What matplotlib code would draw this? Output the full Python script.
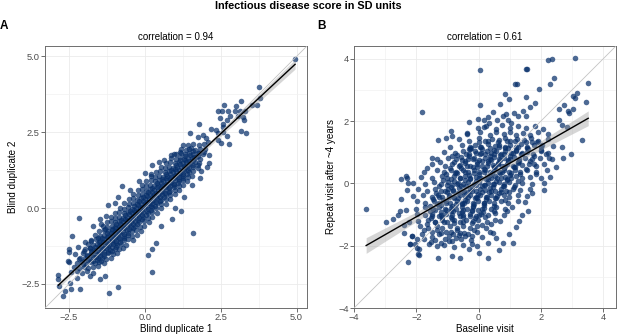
import numpy as np
import matplotlib.pyplot as plt
from matplotlib.ticker import FuncFormatter

plt.rcParams['font.family'] = ['Liberation Sans', 'DejaVu Sans']

# Panel A: blind duplicates, points as (duplicate 1, duplicate 2)
dup_core = [
    (-2.42, -2.12), (-2.25, -2.07), (-2.08, -2.13), (-1.9, -2.08),
    (-2.33, -1.94), (-2.18, -1.98), (-2.02, -1.93), (-1.87, -1.97), (-1.7, -1.95), (-1.56, -1.92),
    (-2.25, -1.81), (-2.08, -1.77), (-1.93, -1.83), (-1.79, -1.78), (-1.64, -1.82), (-1.5, -1.79), (-1.36, -1.81),
    (-2.15, -1.66), (-1.98, -1.63), (-1.84, -1.67), (-1.7, -1.62), (-1.56, -1.66), (-1.42, -1.64), (-1.27, -1.67), (-1.12, -1.63),
    (-2.05, -1.49), (-1.9, -1.53), (-1.76, -1.48), (-1.62, -1.52), (-1.48, -1.47), (-1.35, -1.51), (-1.21, -1.48), (-1.06, -1.52), (-0.92, -1.49),
    (-1.98, -1.36), (-1.82, -1.33), (-1.68, -1.37), (-1.54, -1.32), (-1.41, -1.36), (-1.27, -1.33), (-1.14, -1.37), (-1.0, -1.34), (-0.85, -1.36), (-0.72, -1.33),
    (-1.86, -1.19), (-1.71, -1.22), (-1.57, -1.18), (-1.44, -1.23), (-1.31, -1.19), (-1.18, -1.21), (-1.05, -1.17), (-0.92, -1.22), (-0.78, -1.18), (-0.63, -1.21),
    (-1.77, -1.06), (-1.62, -1.03), (-1.48, -1.07), (-1.35, -1.02), (-1.22, -1.06), (-1.09, -1.04), (-0.96, -1.07), (-0.83, -1.03), (-0.69, -1.06), (-0.55, -1.02), (-0.4, -1.05),
    (-1.63, -0.89), (-1.49, -0.92), (-1.36, -0.88), (-1.22, -0.93), (-1.09, -0.89), (-0.96, -0.91), (-0.83, -0.87), (-0.7, -0.92), (-0.56, -0.88), (-0.42, -0.91), (-0.27, -0.89),
    (-1.5, -0.76), (-1.36, -0.73), (-1.23, -0.77), (-1.1, -0.72), (-0.97, -0.76), (-0.84, -0.74), (-0.71, -0.77), (-0.58, -0.73), (-0.44, -0.76), (-0.3, -0.72), (-0.14, -0.75),
    (-1.38, -0.59), (-1.24, -0.62), (-1.1, -0.58), (-0.97, -0.63), (-0.84, -0.59), (-0.71, -0.61), (-0.58, -0.57), (-0.45, -0.62), (-0.31, -0.58), (-0.17, -0.61), (-0.02, -0.59),
    (-1.25, -0.46), (-1.11, -0.43), (-0.97, -0.47), (-0.84, -0.42), (-0.71, -0.46), (-0.58, -0.44), (-0.45, -0.47), (-0.32, -0.43), (-0.18, -0.46), (-0.04, -0.42), (0.12, -0.45),
    (-1.12, -0.29), (-0.98, -0.32), (-0.84, -0.28), (-0.71, -0.33), (-0.58, -0.29), (-0.45, -0.31), (-0.32, -0.27), (-0.19, -0.32), (-0.05, -0.28), (0.09, -0.31), (0.25, -0.29),
    (-0.98, -0.16), (-0.84, -0.13), (-0.7, -0.17), (-0.57, -0.12), (-0.44, -0.16), (-0.31, -0.14), (-0.18, -0.17), (-0.05, -0.13), (0.09, -0.16), (0.23, -0.12), (0.39, -0.15),
    (-0.83, 0.01), (-0.69, -0.02), (-0.55, 0.02), (-0.42, -0.03), (-0.29, 0.01), (-0.16, -0.01), (-0.03, 0.03), (0.1, -0.02), (0.24, 0.02), (0.38, -0.01), (0.54, 0.01),
    (-0.68, 0.16), (-0.54, 0.13), (-0.4, 0.17), (-0.27, 0.12), (-0.14, 0.16), (-0.01, 0.14), (0.12, 0.17), (0.25, 0.13), (0.39, 0.16), (0.53, 0.12), (0.69, 0.15),
    (-0.53, 0.29), (-0.39, 0.32), (-0.25, 0.28), (-0.12, 0.33), (0.01, 0.29), (0.14, 0.31), (0.27, 0.27), (0.4, 0.32), (0.54, 0.28), (0.68, 0.31), (0.84, 0.29),
    (-0.38, 0.46), (-0.24, 0.43), (-0.1, 0.47), (0.03, 0.42), (0.16, 0.46), (0.29, 0.44), (0.42, 0.47), (0.55, 0.43), (0.69, 0.46), (0.83, 0.42), (0.99, 0.45),
    (-0.23, 0.59), (-0.09, 0.62), (0.05, 0.58), (0.18, 0.63), (0.31, 0.59), (0.44, 0.61), (0.57, 0.57), (0.7, 0.62), (0.84, 0.58), (0.98, 0.61), (1.13, 0.59),
    (-0.1, 0.76), (0.04, 0.73), (0.18, 0.77), (0.31, 0.72), (0.44, 0.76), (0.57, 0.74), (0.7, 0.77), (0.83, 0.73), (0.97, 0.76), (1.11, 0.72), (1.26, 0.75),
    (0.05, 0.89), (0.19, 0.92), (0.33, 0.88), (0.46, 0.93), (0.59, 0.89), (0.72, 0.91), (0.85, 0.87), (0.98, 0.92), (1.12, 0.88), (1.26, 0.91), (1.4, 0.89),
    (0.2, 1.06), (0.34, 1.03), (0.48, 1.07), (0.61, 1.02), (0.74, 1.06), (0.87, 1.04), (1.0, 1.07), (1.13, 1.03), (1.27, 1.06), (1.41, 1.02), (1.55, 1.05),
    (0.37, 1.19), (0.51, 1.22), (0.65, 1.18), (0.78, 1.23), (0.91, 1.19), (1.04, 1.21), (1.17, 1.17), (1.3, 1.22), (1.44, 1.18), (1.58, 1.21),
    (0.52, 1.36), (0.66, 1.33), (0.8, 1.37), (0.93, 1.32), (1.06, 1.36), (1.19, 1.34), (1.32, 1.37), (1.46, 1.33), (1.6, 1.36), (1.74, 1.32),
    (0.7, 1.49), (0.84, 1.52), (0.98, 1.48), (1.11, 1.53), (1.24, 1.49), (1.37, 1.51), (1.5, 1.47), (1.64, 1.52), (1.79, 1.48),
    (0.87, 1.66), (1.01, 1.63), (1.15, 1.67), (1.28, 1.62), (1.41, 1.66), (1.54, 1.64), (1.68, 1.67), (1.83, 1.63),
    (1.03, 1.79), (1.18, 1.82), (1.32, 1.78), (1.46, 1.83), (1.6, 1.79), (1.75, 1.81), (1.9, 1.78),
    (1.2, 1.96), (1.36, 1.93), (1.51, 1.97), (1.66, 1.92), (1.82, 1.96), (1.98, 1.94),
    (1.42, 2.09), (1.6, 2.12), (1.78, 2.08), (1.96, 2.11),
]
# the darkest strip right along the diagonal
dup_center = [
    (-2.0, -1.73), (-1.86, -1.71), (-1.72, -1.75), (-1.58, -1.72), (-1.44, -1.74),
    (-1.9, -1.58), (-1.76, -1.56), (-1.62, -1.6), (-1.48, -1.57), (-1.34, -1.59),
    (-1.78, -1.43), (-1.64, -1.41), (-1.5, -1.45), (-1.36, -1.42), (-1.22, -1.44), (-1.08, -1.42),
    (-1.65, -1.28), (-1.51, -1.26), (-1.37, -1.3), (-1.23, -1.27), (-1.09, -1.29), (-0.95, -1.27),
    (-1.52, -1.13), (-1.38, -1.11), (-1.24, -1.15), (-1.1, -1.12), (-0.96, -1.14), (-0.82, -1.12),
    (-1.4, -0.98), (-1.26, -0.96), (-1.12, -1.0), (-0.98, -0.97), (-0.84, -0.99), (-0.7, -0.97),
    (-1.26, -0.83), (-1.12, -0.81), (-0.98, -0.85), (-0.84, -0.82), (-0.7, -0.84), (-0.56, -0.82),
    (-1.1, -0.68), (-0.96, -0.66), (-0.82, -0.7), (-0.68, -0.67), (-0.54, -0.69), (-0.4, -0.67),
    (-0.96, -0.53), (-0.82, -0.51), (-0.68, -0.55), (-0.54, -0.52), (-0.4, -0.54), (-0.26, -0.52),
    (-0.8, -0.38), (-0.66, -0.36), (-0.52, -0.4), (-0.38, -0.37), (-0.24, -0.39), (-0.1, -0.37),
    (-0.66, -0.23), (-0.52, -0.21), (-0.38, -0.25), (-0.24, -0.22), (-0.1, -0.24), (0.04, -0.22),
    (-0.5, -0.08), (-0.36, -0.06), (-0.22, -0.1), (-0.08, -0.07), (0.06, -0.09), (0.2, -0.07),
    (-0.36, 0.07), (-0.22, 0.09), (-0.08, 0.05), (0.06, 0.08), (0.2, 0.06), (0.34, 0.08),
    (-0.2, 0.22), (-0.06, 0.24), (0.08, 0.2), (0.22, 0.23), (0.36, 0.21), (0.5, 0.23),
    (-0.06, 0.37), (0.08, 0.39), (0.22, 0.35), (0.36, 0.38), (0.5, 0.36), (0.64, 0.38),
    (0.1, 0.52), (0.24, 0.54), (0.38, 0.5), (0.52, 0.53), (0.66, 0.51), (0.8, 0.53),
    (0.25, 0.67), (0.39, 0.69), (0.53, 0.65), (0.67, 0.68), (0.81, 0.66), (0.95, 0.68),
    (0.4, 0.82), (0.54, 0.84), (0.68, 0.8), (0.82, 0.83), (0.96, 0.81), (1.1, 0.83),
    (0.55, 0.97), (0.69, 0.99), (0.83, 0.95), (0.97, 0.98), (1.11, 0.96), (1.25, 0.98),
    (0.7, 1.12), (0.84, 1.14), (0.98, 1.1), (1.12, 1.13), (1.26, 1.11), (1.4, 1.13),
    (0.86, 1.27), (1.0, 1.29), (1.14, 1.25), (1.28, 1.28), (1.42, 1.26),
    (1.01, 1.42), (1.15, 1.44), (1.29, 1.4), (1.43, 1.43), (1.57, 1.41),
    (1.17, 1.57), (1.31, 1.59), (1.45, 1.55), (1.59, 1.58),
    (1.33, 1.72), (1.47, 1.74), (1.61, 1.7), (1.75, 1.73),
]
dup_outer = [
    (4.95, 4.92), (3.77, 4.0), (3.79, 3.64), (3.71, 3.41), (3.53, 3.41), (3.17, 3.52), (3.0, 3.36),
    (2.6, 3.41), (2.53, 3.2), (2.42, 3.2), (2.75, 3.2), (2.97, 3.2), (3.13, 3.2), (3.29, 3.2),
    (2.79, 3.04), (3.06, 3.02), (3.22, 3.0), (3.27, 2.89), (2.71, 2.89), (2.49, 2.96), (2.58, 2.76),
    (2.56, 2.67), (1.78, 2.78), (2.19, 2.61), (2.33, 2.56), (2.41, 2.48), (2.58, 2.52), (2.69, 2.39),
    (3.17, 2.53), (3.33, 2.48), (1.48, 2.48), (1.76, 2.34), (1.92, 2.4), (2.0, 2.3), (2.08, 2.19),
    (2.78, 2.1), (2.41, 2.25), (2.52, 2.14), (1.27, 2.07), (1.44, 1.96), (1.16, 1.86), (1.6, 1.88),
    (1.78, 1.8), (1.94, 1.86), (2.1, 1.75), (2.1, 1.48), (2.04, 1.37), (1.75, 1.43), (1.86, 1.21),
    (0.25, 1.41), (0.47, 1.52), (0.63, 1.58), (0.85, 1.74), (0.96, 1.79), (0.2, 1.14),
    (-2.18, -0.32), (-0.75, 0.72), (-1.0, 0.18), (-2.41, -0.92), (-2.49, -1.34), (-2.49, -1.45),
    (-2.19, -1.27), (-2.55, -1.75), (-2.49, -1.78), (-2.17, -1.69), (-2.04, -1.85), (-2.85, -2.22),
    (-2.85, -2.33), (-2.82, -2.57), (-2.64, -2.73), (-2.45, -2.68), (-2.69, -2.9), (-2.15, -2.68),
    (-2.47, -2.46), (-2.25, -2.29), (-1.81, -2.24), (-1.71, -2.13), (-1.49, -2.35), (-1.33, -2.24),
    (-1.17, -2.79), (-0.89, -2.59), (0.25, -2.11), (0.09, -1.56), (0.25, -1.34), (-1.49, -0.37),
    (-1.28, -0.26), (-1.44, -0.54), (-1.55, -0.97), (-1.76, -1.09), (-1.98, -1.12), (-1.82, -1.31),
    (0.52, -0.59), (0.36, -1.14), (1.59, -0.81), (1.3, 0.35), (1.55, 0.75), (1.2, -0.1), (0.9, -0.35),
    (1.8, 1.0), (1.0, 0.0), (-1.2, 0.1), (-0.5, 0.6), (-0.2, 0.9), (0.0, 1.15), (-0.9, 0.35),
    (-1.7, -0.6), (-1.3, -0.7), (-2.3, -1.5), (-2.0, -1.4),
]

# Panel B: baseline visit vs repeat visit, (baseline, repeat)
visit_core = [
    (-0.02, 1.78), (0.25, 1.84), (0.57, 1.76), (0.76, 1.86), (1.02, 1.79), (1.28, 1.85), (1.53, 1.77), (1.82, 1.83), (2.08, 1.76),
    (-0.37, 1.58), (0.03, 1.64), (0.37, 1.57), (0.57, 1.66), (0.81, 1.59), (1.01, 1.65), (1.2, 1.56), (1.44, 1.63), (1.66, 1.57), (1.91, 1.66), (2.23, 1.6),
    (-0.63, 1.42), (-0.31, 1.37), (0.02, 1.45), (0.22, 1.36), (0.44, 1.43), (0.67, 1.38), (0.84, 1.46), (1.02, 1.37), (1.23, 1.44), (1.46, 1.39), (1.67, 1.45), (1.91, 1.36), (2.23, 1.43),
    (-0.91, 1.18), (-0.54, 1.24), (-0.29, 1.16), (-0.11, 1.23), (0.08, 1.17), (0.31, 1.25), (0.52, 1.19), (0.66, 1.24), (0.84, 1.16), (1.01, 1.22), (1.19, 1.18), (1.36, 1.25), (1.54, 1.17), (1.79, 1.23), (2.02, 1.16), (2.38, 1.21),
    (-1.11, 1.02), (-0.76, 0.97), (-0.49, 1.04), (-0.31, 0.96), (-0.11, 1.03), (0.09, 0.98), (0.26, 1.05), (0.41, 0.97), (0.56, 1.03), (0.71, 0.96), (0.86, 1.04), (1.04, 0.98), (1.21, 1.05), (1.39, 0.97), (1.56, 1.02), (1.76, 0.96), (2.01, 1.04), (2.24, 0.99),
    (-1.34, 0.78), (-0.99, 0.83), (-0.74, 0.77), (-0.56, 0.84), (-0.34, 0.78), (-0.16, 0.82), (0.01, 0.76), (0.19, 0.83), (0.36, 0.79), (0.49, 0.84), (0.66, 0.77), (0.81, 0.82), (0.96, 0.76), (1.14, 0.84), (1.31, 0.78), (1.49, 0.83), (1.71, 0.77), (1.96, 0.82), (2.37, 0.79),
    (-1.51, 0.62), (-1.09, 0.57), (-0.84, 0.63), (-0.61, 0.58), (-0.44, 0.64), (-0.26, 0.56), (-0.04, 0.62), (0.11, 0.57), (0.29, 0.64), (0.46, 0.58), (0.61, 0.63), (0.74, 0.56), (0.91, 0.62), (1.09, 0.57), (1.26, 0.64), (1.41, 0.58), (1.61, 0.63), (1.85, 0.56), (2.11, 0.61),
    (-1.76, 0.38), (-1.34, 0.43), (-1.11, 0.37), (-0.89, 0.42), (-0.71, 0.36), (-0.49, 0.44), (-0.34, 0.38), (-0.16, 0.43), (0.01, 0.36), (0.19, 0.42), (0.36, 0.37), (0.49, 0.44), (0.66, 0.38), (0.81, 0.43), (0.99, 0.36), (1.16, 0.42), (1.34, 0.37), (1.56, 0.44), (1.84, 0.38), (2.19, 0.42),
    (-1.84, 0.22), (-1.51, 0.17), (-1.19, 0.23), (-1.01, 0.16), (-0.79, 0.24), (-0.61, 0.18), (-0.44, 0.23), (-0.26, 0.16), (-0.09, 0.22), (0.09, 0.17), (0.26, 0.24), (0.41, 0.18), (0.54, 0.23), (0.71, 0.16), (0.86, 0.22), (1.04, 0.17), (1.21, 0.24), (1.39, 0.18), (1.66, 0.22), (1.99, 0.16),
    (-2.09, 0.02), (-1.71, -0.03), (-1.44, 0.04), (-1.21, -0.02), (-0.99, 0.03), (-0.84, -0.04), (-0.66, 0.02), (-0.49, -0.03), (-0.34, 0.04), (-0.16, -0.02), (0.01, 0.03), (0.16, -0.04), (0.29, 0.02), (0.46, -0.03), (0.64, 0.04), (0.81, -0.02), (0.99, 0.03), (1.16, -0.04), (1.39, 0.02), (1.71, -0.03), (2.09, 0.01),
    (-1.94, -0.18), (-1.66, -0.23), (-1.39, -0.17), (-1.21, -0.24), (-0.99, -0.18), (-0.81, -0.22), (-0.64, -0.16), (-0.46, -0.23), (-0.26, -0.17), (-0.09, -0.24), (0.06, -0.18), (0.21, -0.22), (0.36, -0.16), (0.54, -0.23), (0.71, -0.17), (0.89, -0.24), (1.11, -0.18), (1.34, -0.22), (1.66, -0.17),
    (-2.11, -0.42), (-1.79, -0.37), (-1.51, -0.43), (-1.29, -0.36), (-1.16, -0.44), (-0.94, -0.38), (-0.79, -0.43), (-0.61, -0.36), (-0.44, -0.42), (-0.26, -0.37), (-0.09, -0.44), (0.06, -0.38), (0.24, -0.43), (0.41, -0.36), (0.59, -0.42), (0.81, -0.37), (0.99, -0.44), (1.26, -0.38), (1.54, -0.42),
    (-1.99, -0.58), (-1.71, -0.63), (-1.44, -0.57), (-1.26, -0.64), (-1.04, -0.58), (-0.91, -0.62), (-0.69, -0.56), (-0.54, -0.63), (-0.36, -0.57), (-0.19, -0.64), (-0.01, -0.58), (0.16, -0.62), (0.34, -0.56), (0.51, -0.63), (0.71, -0.57), (0.94, -0.62), (1.26, -0.58),
    (-2.01, -0.82), (-1.73, -0.77), (-1.46, -0.83), (-1.28, -0.76), (-1.06, -0.84), (-0.88, -0.78), (-0.71, -0.83), (-0.53, -0.76), (-0.36, -0.82), (-0.18, -0.77), (-0.01, -0.84), (0.17, -0.78), (0.39, -0.83), (0.57, -0.76), (0.84, -0.82), (1.07, -0.77),
    (-1.99, -0.98), (-1.71, -1.03), (-1.49, -0.97), (-1.26, -1.04), (-1.04, -0.98), (-0.86, -1.02), (-0.64, -0.96), (-0.51, -1.03), (-0.29, -0.97), (-0.09, -1.04), (0.09, -0.98), (0.31, -1.02), (0.54, -0.96), (0.81, -1.03),
    (-1.96, -1.22), (-1.64, -1.17), (-1.41, -1.23), (-1.19, -1.16), (-1.01, -1.24), (-0.79, -1.18), (-0.61, -1.23), (-0.39, -1.16), (-0.19, -1.22), (-0.01, -1.17), (0.26, -1.24), (0.54, -1.18),
    (-1.89, -1.38), (-1.61, -1.43), (-1.34, -1.37), (-1.16, -1.44), (-0.91, -1.38), (-0.69, -1.42), (-0.51, -1.36), (-0.29, -1.43), (-0.04, -1.37), (0.24, -1.42),
    (-1.81, -1.62), (-1.49, -1.57), (-1.26, -1.63), (-1.04, -1.56), (-0.81, -1.64), (-0.59, -1.58), (-0.34, -1.62), (-0.06, -1.57),
    (-1.74, -1.78), (-1.41, -1.83), (-1.09, -1.77), (-0.84, -1.84), (-0.56, -1.78), (-0.24, -1.82),
    (-0.28, 1.09), (0.12, 1.12), (0.5, 1.08), (0.85, 1.13), (1.2, 1.07), (1.6, 1.11),
    (-0.68, 0.91), (-0.31, 0.88), (0.05, 0.93), (0.37, 0.87), (0.69, 0.92), (1.02, 0.89), (1.37, 0.93), (1.77, 0.88),
    (-0.8, 0.69), (-0.43, 0.72), (-0.05, 0.68), (0.3, 0.73), (0.62, 0.67), (0.95, 0.71), (1.28, 0.68), (1.65, 0.72),
    (-0.93, 0.51), (-0.55, 0.48), (-0.18, 0.52), (0.18, 0.47), (0.5, 0.53), (0.83, 0.49), (1.17, 0.52), (1.53, 0.47),
    (-1.05, 0.29), (-0.68, 0.32), (-0.32, 0.28), (0.02, 0.31), (0.37, 0.27), (0.68, 0.32), (1.0, 0.28), (1.34, 0.31),
    (-1.15, 0.11), (-0.78, 0.08), (-0.43, 0.12), (-0.09, 0.07), (0.24, 0.13), (0.55, 0.09), (0.9, 0.12), (1.25, 0.08),
    (-1.27, -0.09), (-0.9, -0.12), (-0.57, -0.08), (-0.22, -0.11), (0.11, -0.07), (0.45, -0.12), (0.78, -0.09), (1.13, -0.11),
    (-1.36, -0.31), (-1.01, -0.28), (-0.67, -0.32), (-0.34, -0.27), (-0.01, -0.33), (0.32, -0.29), (0.65, -0.31), (0.99, -0.28),
    (-1.47, -0.49), (-1.14, -0.52), (-0.8, -0.48), (-0.45, -0.53), (-0.11, -0.47), (0.23, -0.51), (0.55, -0.48), (0.85, -0.52),
    (-1.55, -0.71), (-1.2, -0.68), (-0.86, -0.72), (-0.52, -0.67), (-0.18, -0.73), (0.16, -0.69), (0.5, -0.71),
    (-1.56, -0.89), (-1.21, -0.92), (-0.88, -0.88), (-0.54, -0.93), (-0.2, -0.87), (0.13, -0.91), (0.49, -0.89),
    (-1.54, -1.12), (-1.19, -1.08), (-0.84, -1.13), (-0.49, -1.07), (-0.12, -1.11), (0.21, -1.09),
]
# extra overlap in the solid middle of the cloud
visit_center = [
    (0.02, 1.34), (0.31, 1.37), (0.62, 1.33), (0.91, 1.36), (1.18, 1.35), (1.52, 1.33),
    (-0.24, 1.15), (0.06, 1.17), (0.36, 1.13), (0.64, 1.16), (0.96, 1.14), (1.26, 1.17), (1.54, 1.13),
    (-0.41, 0.95), (-0.09, 0.97), (0.21, 0.93), (0.49, 0.96), (0.81, 0.94), (1.11, 0.97), (1.39, 0.93),
    (-0.52, 0.75), (-0.19, 0.77), (0.11, 0.73), (0.41, 0.76), (0.69, 0.74), (1.01, 0.77), (1.31, 0.73),
    (-0.64, 0.55), (-0.36, 0.57), (-0.04, 0.53), (0.26, 0.56), (0.54, 0.54), (0.86, 0.57), (1.14, 0.53),
    (-0.76, 0.35), (-0.44, 0.37), (-0.16, 0.33), (0.16, 0.36), (0.44, 0.34), (0.76, 0.37), (1.04, 0.33),
    (-0.89, 0.15), (-0.61, 0.17), (-0.29, 0.13), (0.01, 0.16), (0.31, 0.14), (0.59, 0.17), (0.91, 0.13),
    (-1.01, -0.05), (-0.69, -0.03), (-0.41, -0.07), (-0.09, -0.04), (0.21, -0.06), (0.49, -0.03), (0.81, -0.07),
    (-1.09, -0.25), (-0.81, -0.23), (-0.49, -0.27), (-0.21, -0.24), (0.11, -0.26), (0.39, -0.23), (0.71, -0.27),
    (-1.26, -0.45), (-0.94, -0.43), (-0.66, -0.47), (-0.34, -0.44), (-0.06, -0.46), (0.26, -0.43), (0.54, -0.47),
    (-1.34, -0.65), (-1.06, -0.63), (-0.74, -0.67), (-0.46, -0.64), (-0.14, -0.66), (0.16, -0.63),
    (-1.41, -0.85), (-1.09, -0.83), (-0.81, -0.87), (-0.49, -0.84), (-0.21, -0.86), (0.11, -0.83),
    (-1.49, -1.05), (-1.21, -1.03), (-0.89, -1.07), (-0.61, -1.04), (-0.29, -1.06), (0.01, -1.03),
    (-1.39, -1.25), (-1.11, -1.23), (-0.79, -1.27), (-0.51, -1.24), (-0.21, -1.26),
]
visit_outer = [
    (0.05, 3.64), (0.05, 2.52), (-1.83, 2.29), (-0.01, 2.06), (0.18, 2.05), (-0.31, 1.96), (0.17, 1.81),
    (-0.9, 1.69), (-0.37, 1.63), (-0.84, 1.53), (-1.06, 1.45), (-1.31, 1.38), (-0.32, 1.09), (-1.48, 0.81),
    (-0.84, 0.87), (-1.25, 0.68), (-1.66, 0.49), (-2.32, 0.23),
    (2.22, 3.96), (2.36, 3.99), (3.08, 4.03), (1.51, 3.67), (1.55, 3.66), (2.41, 3.38), (1.16, 3.2),
    (1.23, 3.2), (2.29, 3.19), (3.52, 3.21), (1.93, 3.02), (0.85, 2.87), (3.02, 2.82), (3.16, 2.91),
    (3.11, 2.74), (1.51, 2.77), (0.98, 2.7), (0.68, 2.55), (1.81, 2.58), (3.45, 2.63), (1.64, 2.44),
    (2.57, 2.39), (3.02, 2.4), (2.87, 2.32), (2.89, 2.25), (2.75, 2.52), (0.87, 2.23), (0.78, 2.16),
    (1.13, 2.25), (1.27, 2.15), (1.44, 2.31), (1.51, 2.16), (0.31, 2.12), (2.57, 2.05), (0.95, 2.05),
    (1.03, 1.93), (2.68, 1.87), (2.84, 1.8), (3.32, 1.4), (2.68, 1.16), (2.98, 0.93), (2.71, 0.83),
    (2.15, 0.95), (2.25, 0.83), (2.04, 1.22), (1.99, 1.06), (1.88, 1.32), (1.72, 1.32), (1.77, 0.63),
    (1.83, 0.31), (2.49, 0.52), (0.45, 2.3), (0.6, 2.05), (0.35, 1.95),
    (-3.61, -0.82), (-2.97, -1.24), (-2.75, -1.14), (-2.51, -0.88), (-2.32, -0.85), (-2.4, -1.32),
    (-2.3, -0.2), (-2.28, 0.01), (-2.48, 0.14), (-2.3, 0.17), (-2.14, -1.7), (-1.98, -1.8),
    (-2.03, -1.96), (-2.19, -1.96), (-2.24, -1.25), (-1.98, -2.07), (-1.92, -2.29), (-2.27, -2.53),
    (-0.86, -2.32), (0.01, -2.25), (0.98, -1.61), (0.78, -1.91), (0.67, -2.15), (-0.2, -1.93),
    (0.12, -1.72), (0.38, -1.56), (-2.21, -1.96), (-1.93, -2.28), (-1.9, -2.1), (-2.13, -1.69),
    (-1.54, -1.88), (-1.22, -1.9), (-0.95, -1.85), (-0.74, -1.75), (-0.63, -1.65), (-0.47, -1.6),
    (2.1, -0.2), (1.6, -0.9), (1.3, -1.2), (2.3, 0.2),
    # lower edge of the cloud
    (-1.6, -1.95), (-1.35, -2.0), (-1.1, -1.97), (-0.8, -2.05), (-0.5, -1.98), (-0.3, -2.1),
    (-0.05, -2.0), (0.3, -1.9), (0.55, -1.75), (-1.75, -1.5), (-1.5, -1.72), (-1.2, -1.6),
    (-0.95, -1.7), (-0.7, -1.5), (-0.45, -1.7), (-0.15, -1.5), (0.1, -1.35), (0.4, -1.3),
    (0.7, -1.2), (0.45, -1.6), (-2.4, -1.6), (-2.6, -1.0), (-2.5, -0.5), (-1.3, -2.4),
    (-0.6, -2.4), (0.3, -2.4), (1.1, -1.9), (1.2, -1.4), (0.9, -0.9), (1.5, -0.6),
    (1.7, -0.3), (1.4, -1.0), (-1.65, -1.3), (-1.35, -1.5), (-0.9, -1.55), (-0.2, -1.7),
]

dup_ticks = [-2.5, 0.0, 2.5, 5.0]
visit_ticks = [-4, -2, 0, 2, 4]
panel_tags = ['A', 'B']
panel_titles = ['correlation = 0.94', 'correlation = 0.61']
x_titles = ['Blind duplicate 1', 'Baseline visit']
y_titles = ['Blind duplicate 2', 'Repeat visit after ~4 years']
main_title = 'Infectious disease score in SD units'

W, H = 617, 334
fig = plt.figure(figsize=(W / 100, H / 100), dpi=100)
POINT = '#08306B'


def px_axes(left, top, w, h):
    return fig.add_axes([left / W, 1 - (top + h) / H, w / W, h / H])


def fig_text(x, y, s, **kw):
    fig.text(x / W, 1 - y / H, s, ha='center', va='center', **kw)


def draw_panel(ax, pts, ticks, fmt):
    pts = np.array(pts)
    x, y = pts[:, 0], pts[:, 1]
    lo, hi = pts.min(), pts.max()
    pad = 0.05 * (hi - lo)
    ax.set_xlim(lo - pad, hi + pad)
    ax.set_ylim(lo - pad, hi + pad)

    minor = [(a + b) / 2 for a, b in zip(ticks[:-1], ticks[1:])]
    for setter in (ax.set_xticks, ax.set_yticks):
        setter(ticks)
        setter(minor, minor=True)
    lab = FuncFormatter(lambda v, p: fmt.format(v).replace('-', '\u2212'))
    ax.xaxis.set_major_formatter(lab)
    ax.yaxis.set_major_formatter(lab)
    ax.grid(which='major', color='#EBEBEB', lw=0.6)
    ax.grid(which='minor', color='#F2F2F2', lw=0.5)
    ax.set_axisbelow(True)
    ax.tick_params(which='major', length=2.75, width=0.6, color='#555555',
                   labelsize=6.7, labelcolor='#4D4D4D', pad=1.1)
    ax.tick_params(which='minor', length=0)
    for sp in ax.spines.values():
        sp.set_color('#6E6E6E')
        sp.set_linewidth(0.7)

    ax.scatter(x, y, s=16, c=POINT, alpha=0.72, linewidths=0, zorder=2)
    ax.axline((0, 0), (1, 1), color='#C4C4C4', lw=0.6, zorder=3)

    # linear fit with 95% band
    slope, icept = np.polyfit(x, y, 1)
    n = len(x)
    resid = y - (icept + slope * x)
    s = np.sqrt(np.sum(resid ** 2) / (n - 2))
    xs = np.linspace(x.min(), x.max(), 100)
    se = s * np.sqrt(1 / n + (xs - x.mean()) ** 2 / np.sum((x - x.mean()) ** 2))
    fit = icept + slope * xs
    ax.fill_between(xs, fit - 1.96 * se, fit + 1.96 * se, color='#999999',
                    alpha=0.4, lw=0, zorder=4)
    ax.plot(xs, fit, color='black', lw=1.0, zorder=5)


axA = px_axes(45, 46, 262, 262)
axB = px_axes(354, 46, 262, 262)
draw_panel(axA, dup_core + dup_center + dup_outer, dup_ticks, '{:.1f}')
draw_panel(axB, visit_core + visit_center + visit_outer, visit_ticks, '{:.0f}')

fig_text(308.5, 6, main_title, fontsize=7.8, fontweight='bold')
for cx, tx, tag, ttl, xl, yx, yl in [(176, 4, 'A', panel_titles[0], x_titles[0], 13.5, y_titles[0]),
                                     (485, 321, 'B', panel_titles[1], x_titles[1], 331.5, y_titles[1])]:
    fig_text(tx, 26, tag, fontsize=8.5, fontweight='bold')
    fig_text(cx, 37.5, ttl, fontsize=7)
    fig_text(cx, 328.5, xl, fontsize=7.1)
    fig_text(yx, 177, yl, fontsize=7.1, rotation=90)

fig.savefig('out.png', dpi=100)
